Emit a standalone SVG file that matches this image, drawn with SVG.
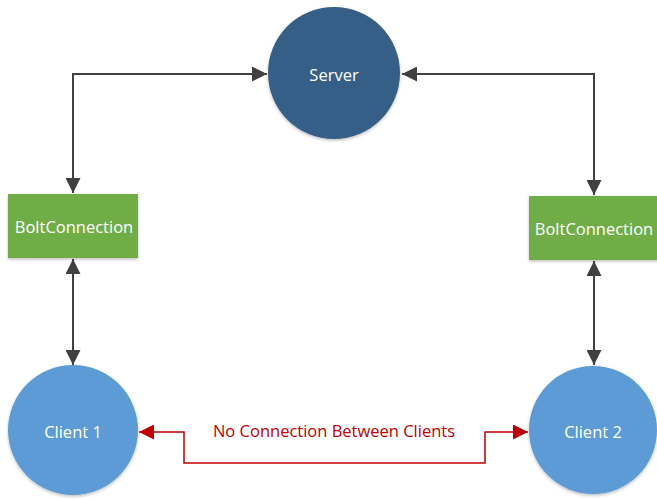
<svg xmlns="http://www.w3.org/2000/svg" width="657" height="499" viewBox="0 0 657 499">
  <style>
    .lbl { font-family: "Open Sans", "Liberation Sans", sans-serif; font-size: 16.5px; fill: #ffffff; text-anchor: middle; dominant-baseline: central; }
    .link { fill: none; stroke: #404040; stroke-width: 2; }
    .nolink { fill: none; stroke: #c00000; stroke-width: 1.5; }
    .note { font-family: "Open Sans", "Liberation Sans", sans-serif; font-size: 16.5px; fill: #c00000; text-anchor: middle; dominant-baseline: central; }
  </style>
  <defs>
    <marker id="arr" viewBox="0 0 10 10" refX="10" refY="5" markerWidth="7.5" markerHeight="7.5" markerUnits="strokeWidth" orient="auto-start-reverse">
      <path d="M0,0 L10,5 L0,10 Z" fill="#404040"/>
    </marker>
    <marker id="arrRed" viewBox="0 0 10 10" refX="10" refY="5" markerWidth="10" markerHeight="10" markerUnits="strokeWidth" orient="auto-start-reverse">
      <path d="M0,0 L10,5 L0,10 Z" fill="#c00000"/>
    </marker>
    <filter id="shadow" x="-20%" y="-20%" width="140%" height="140%">
      <feDropShadow dx="0" dy="1.5" stdDeviation="1.5" flood-color="#000" flood-opacity="0.25"/>
    </filter>
  </defs>

  <g id="connectors">
    <path class="link" d="M73,193 L73,74 L267,74" marker-start="url(#arr)" marker-end="url(#arr)"/>
    <path class="link" d="M594,195 L594,74 L402,74" marker-start="url(#arr)" marker-end="url(#arr)"/>
    <path class="link" d="M73,259 L73,365" marker-start="url(#arr)" marker-end="url(#arr)"/>
    <path class="link" d="M594,261 L594,365" marker-start="url(#arr)" marker-end="url(#arr)"/>
    <path class="nolink" d="M139,432 L184,432 L184,463 L485,463 L485,432 L528,432" marker-start="url(#arrRed)" marker-end="url(#arrRed)"/>
    <text class="note" x="334" y="430">No Connection Between Clients</text>
  </g>

  <g id="server">
    <circle cx="334" cy="73" r="66" fill="#355f86" filter="url(#shadow)"/>
    <text class="lbl" x="334" y="74">Server</text>
  </g>

  <g id="bolt-left">
    <rect x="8" y="194" width="130" height="64" fill="#70ad47" filter="url(#shadow)"/>
    <text class="lbl" x="74" y="226">BoltConnection</text>
  </g>

  <g id="bolt-right">
    <rect x="529" y="196" width="130" height="64" fill="#70ad47" filter="url(#shadow)"/>
    <text class="lbl" x="594" y="228">BoltConnection</text>
  </g>

  <g id="client-1">
    <circle cx="73" cy="430" r="65" fill="#5b9bd5" filter="url(#shadow)"/>
    <text class="lbl" x="73" y="431">Client 1</text>
  </g>

  <g id="client-2">
    <circle cx="593" cy="430" r="64" fill="#5b9bd5" filter="url(#shadow)"/>
    <text class="lbl" x="593" y="431">Client 2</text>
  </g>
</svg>
